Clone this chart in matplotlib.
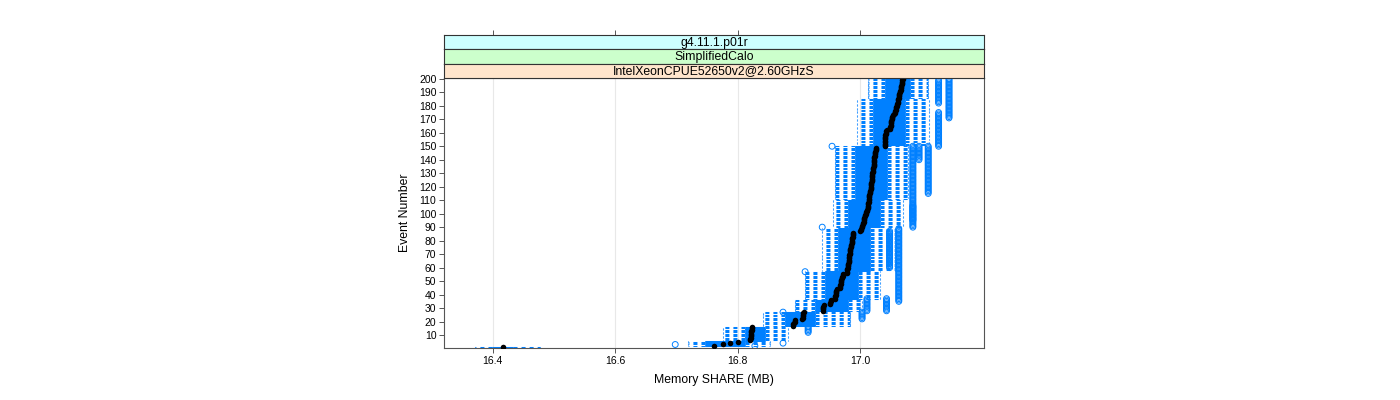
import numpy as np
import matplotlib
matplotlib.use("Agg")
import matplotlib.pyplot as plt
from matplotlib.collections import LineCollection

plt.rcParams['font.family'] = ['Liberation Sans', 'DejaVu Sans']
plt.rcParams['lines.scale_dashes'] = False

# event numbers 1..200 (y categories)
events = np.arange(1, 201)

# median Memory SHARE (MB) per event
medians = [
    16.417, 16.762, 16.776, 16.788, 16.800, 16.820, 16.820, 16.821, 16.821, 16.821,
    16.822, 16.822, 16.822, 16.823, 16.823, 16.823, 16.890, 16.891, 16.892, 16.893,
    16.894, 16.905, 16.906, 16.906, 16.907, 16.907, 16.908, 16.939, 16.939, 16.940,
    16.940, 16.941, 16.951, 16.951, 16.952, 16.953, 16.959, 16.959, 16.959, 16.960,
    16.960, 16.960, 16.961, 16.962, 16.967, 16.967, 16.967, 16.968, 16.968, 16.969,
    16.969, 16.970, 16.971, 16.972, 16.972, 16.978, 16.978, 16.979, 16.979, 16.980,
    16.980, 16.980, 16.980, 16.981, 16.981, 16.981, 16.982, 16.982, 16.982, 16.983,
    16.983, 16.983, 16.984, 16.984, 16.985, 16.985, 16.985, 16.986, 16.986, 16.986,
    16.987, 16.987, 16.988, 16.988, 16.988, 16.989, 17.000, 17.001, 17.002, 17.003,
    17.003, 17.005, 17.005, 17.006, 17.006, 17.007, 17.007, 17.008, 17.008, 17.010,
    17.010, 17.011, 17.011, 17.012, 17.012, 17.013, 17.013, 17.013, 17.014, 17.014,
    17.014, 17.015, 17.015, 17.015, 17.016, 17.016, 17.016, 17.017, 17.017, 17.017,
    17.018, 17.018, 17.018, 17.019, 17.019, 17.019, 17.020, 17.020, 17.020, 17.020,
    17.021, 17.021, 17.021, 17.021, 17.022, 17.022, 17.022, 17.022, 17.023, 17.023,
    17.023, 17.023, 17.024, 17.024, 17.024, 17.024, 17.025, 17.025, 17.026, 17.040,
    17.040, 17.040, 17.040, 17.041, 17.041, 17.041, 17.041, 17.041, 17.042, 17.042,
    17.042, 17.043, 17.049, 17.049, 17.050, 17.050, 17.050, 17.051, 17.051, 17.052,
    17.052, 17.052, 17.054, 17.055, 17.056, 17.057, 17.058, 17.058, 17.059, 17.060,
    17.060, 17.061, 17.061, 17.062, 17.062, 17.063, 17.063, 17.064, 17.064, 17.065,
    17.065, 17.066, 17.066, 17.067, 17.067, 17.068, 17.068, 17.069, 17.069, 17.070,
]

# box/whisker stats, constant over blocks of events
block_first = [1, 2, 6, 17, 28, 37, 58, 90, 111, 151, 186]
block_last = [1, 5, 16, 27, 36, 57, 89, 110, 150, 185, 200]
block_lo = [16.371, 16.719, 16.776, 16.841, 16.894, 16.910, 16.938, 16.956, 16.959, 16.995, 17.013]
block_q1 = [16.399, 16.747, 16.812, 16.877, 16.926, 16.943, 16.964, 16.980, 16.992, 17.021, 17.040]
block_q3 = [16.433, 16.812, 16.844, 16.926, 16.980, 16.997, 17.016, 17.032, 17.043, 17.073, 17.081]
block_hi = [16.477, 16.853, 16.882, 16.984, 17.003, 17.032, 17.057, 17.070, 17.078, 17.113, 17.110]

# outlier columns: (first event, last event, value)
out_first = [3, 2, 4, 12, 22, 28, 28, 35, 60, 90, 95, 140, 115, 150, 182, 171, 150, 90, 57, 27]
out_last = [3, 2, 4, 16, 27, 37, 37, 89, 87, 106, 150, 150, 150, 175, 199, 200, 150, 90, 57, 27]
out_value = [16.698, 16.828, 16.874, 16.915, 17.003, 17.011, 17.043, 17.063, 17.048, 17.086,
             17.086, 17.096, 17.111, 17.128, 17.128, 17.145, 16.954, 16.938, 16.910, 16.874]

x_ticks = [16.4, 16.6, 16.8, 17.0]
y_ticks = list(range(10, 201, 10))
strip_labels = ['g4.11.1.p01r', 'SimplifiedCalo', 'IntelXeonCPUE52650v2@2.60GHzS']
strip_colors = ['#ccffff', '#ccffcc', '#ffe5cc']

blue = '#0080ff'
W, H = 1400, 400

# expand block stats to one value per event
counts = np.array(block_last) - np.array(block_first) + 1
lo = np.repeat(block_lo, counts)
q1 = np.repeat(block_q1, counts)
q3 = np.repeat(block_q3, counts)
hi = np.repeat(block_hi, counts)

fig = plt.figure(figsize=(W / 100, H / 100), dpi=100)
ax = fig.add_axes([444 / W, 52 / H, 540 / W, 270 / H])

# vertical grid
for xv in x_ticks:
    ax.axvline(xv, color='#e8e8e8', lw=0.8, zorder=0)

hw = 0.25
box_segs = []
cap_segs = []
whisk_segs = []
for e, a, b, c, d in zip(events, lo, q1, q3, hi):
    box_segs += [[(b, e - hw), (c, e - hw)], [(b, e + hw), (c, e + hw)],
                 [(b, e - hw), (b, e + hw)], [(c, e - hw), (c, e + hw)]]
    whisk_segs += [[(b, e), (a, e)], [(c, e), (d, e)]]
    cap_segs += [[(a, e - hw), (a, e + hw)], [(d, e - hw), (d, e + hw)]]

ax.add_collection(LineCollection(box_segs, colors=blue, linewidths=0.75, zorder=2))
ax.add_collection(LineCollection(whisk_segs, colors=blue, linewidths=0.75,
                                 linestyles=[(0, (2.9, 2.9))], zorder=2))
ax.add_collection(LineCollection(cap_segs, colors=blue, linewidths=0.75, zorder=2))

ax.scatter(medians, events, s=16, color='black', lw=0, zorder=3)

ox, oy = [], []
for f, l, v in zip(out_first, out_last, out_value):
    for e in range(f, l + 1):
        ox.append(v)
        oy.append(e)
ax.scatter(ox, oy, s=18, facecolors='none', edgecolors=blue, linewidths=0.7, zorder=4)

ax.set_xlim(16.3205, 17.2021)
ax.set_ylim(0.4, 200.6)
ax.set_xticks(x_ticks)
ax.set_xticklabels(['16.4', '16.6', '16.8', '17.0'])
ax.set_yticks(y_ticks)
ax.tick_params(axis='both', labelsize=7.5, length=3.5, width=0.7, color='#555555', pad=2)
for s in ax.spines.values():
    s.set_color('#555555')
    s.set_linewidth(0.8)
ax.set_xlabel('Memory SHARE (MB)', fontsize=8.8, labelpad=6)
ax.set_ylabel('Event Number', fontsize=8.8, labelpad=6)

# strips above the panel
strip_h = 14.3
for i, (lab, col) in enumerate(zip(strip_labels, strip_colors)):
    top = 35 + i * strip_h
    sax = fig.add_axes([444 / W, 1 - (top + strip_h) / H, 540 / W, strip_h / H])
    sax.set_facecolor(col)
    sax.set_xlim(ax.get_xlim())
    sax.set_yticks([])
    for s in sax.spines.values():
        s.set_color('#333333')
        s.set_linewidth(0.8)
    if i == 0:
        sax.xaxis.set_ticks_position('top')
        sax.set_xticks(x_ticks)
        sax.tick_params(axis='x', labeltop=False, length=3.5, width=0.7, color='#555555')
    else:
        sax.set_xticks([])
    sax.text(0.5, 0.45, lab, transform=sax.transAxes, ha='center', va='center', fontsize=8.8)

fig.savefig('out.png', dpi=100)
